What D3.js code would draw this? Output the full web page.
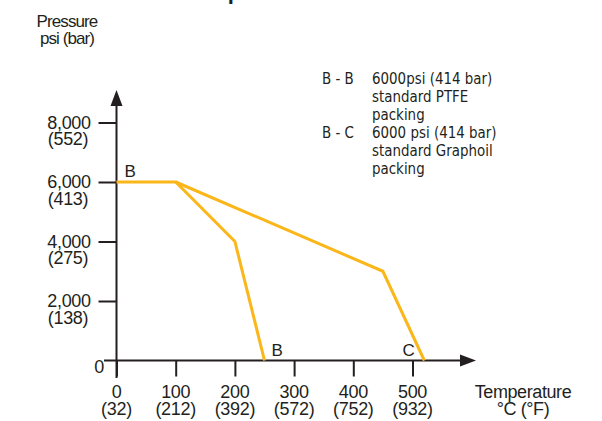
<!DOCTYPE html>
<html>
<head>
<meta charset="utf-8">
<script src="https://cdn.jsdelivr.net/npm/d3@7"></script>
<style>
  body { margin: 0; background: #fff; }
  svg text { fill: #231f20; }
</style>
</head>
<body>
<div id="chart"></div>
<script>
// data
const tempTicks = [0, 100, 200, 300, 400, 500];
const tempTicksF = ['(32)', '(212)', '(392)', '(572)', '(752)', '(932)'];
const pressureTicks = [2000, 4000, 6000, 8000];
const pressureTicksBar = ['(138)', '(275)', '(413)', '(552)'];
const seriesBB = [[0, 6000], [100, 6000], [200, 4000], [250, 0]];
const seriesBC = [[100, 6000], [450, 3000], [520, 0]];
const legendLines = [
  ['B - B', '6000psi (414 bar)'],
  ['', 'standard PTFE'],
  ['', 'packing'],
  ['B - C', '6000 psi (414 bar)'],
  ['', 'standard Graphoil'],
  ['', 'packing'],
];

const ink = '#231f20';
const orange = '#fbb619';
const W = 602, H = 421;
const sans = 'Liberation Sans, Arial, sans-serif';

const svg = d3.select('#chart').append('svg')
  .attr('width', W)
  .attr('height', H);

const x = d3.scaleLinear().domain([0, 500]).range([116.5, 412.5]);
const y = d3.scaleLinear().domain([0, 8000]).range([360.5, 122.5]);

// title, cropped off at the very top like the reference
svg.append('text')
  .attr('x', 232).attr('y', -1)
  .attr('text-anchor', 'middle')
  .style('font-family', sans)
  .style('font-weight', 'bold')
  .style('font-size', '22px')
  .text('Pressure/temperature chart');

// axes lines + arrows
svg.append('line')
  .attr('x1', x(0)).attr('x2', x(0))
  .attr('y1', 378).attr('y2', 100)
  .attr('stroke', ink).attr('stroke-width', 2);
svg.append('line')
  .attr('x1', 104).attr('x2', 465)
  .attr('y1', y(0)).attr('y2', y(0))
  .attr('stroke', ink).attr('stroke-width', 2);
svg.append('path')
  .attr('d', `M${x(0)},90 L${x(0) - 6},106 L${x(0) + 6},106 Z`)
  .attr('fill', ink);
svg.append('path')
  .attr('d', `M476,${y(0)} L460,${y(0) - 6} L460,${y(0) + 6} Z`)
  .attr('fill', ink);

// x ticks
const xAxis = svg.append('g')
  .attr('transform', `translate(0, ${y(0)})`)
  .call(d3.axisBottom(x).tickValues(tempTicks).tickSize(16).tickFormat(''));
xAxis.select('.domain').remove();
xAxis.selectAll('.tick line').attr('stroke', ink).attr('stroke-width', 2);

const xLabels = svg.append('g')
  .style('font-family', sans)
  .style('font-size', '18px')
  .style('letter-spacing', '-0.3px')
  .attr('text-anchor', 'middle');
xLabels.selectAll('text.c').data(tempTicks).join('text')
  .attr('class', 'c')
  .attr('x', d => x(d)).attr('y', 398)
  .text(d => d);
xLabels.selectAll('text.f').data(tempTicksF).join('text')
  .attr('class', 'f')
  .attr('x', (d, i) => x(tempTicks[i])).attr('y', 414.5)
  .text(d => d);

// y ticks
const yAxis = svg.append('g')
  .attr('transform', `translate(${x(0)}, 0)`)
  .call(d3.axisLeft(y).tickValues(pressureTicks).tickSize(18).tickFormat(''));
yAxis.select('.domain').remove();
yAxis.selectAll('.tick line').attr('stroke', ink).attr('stroke-width', 2);

const yLabels = svg.append('g')
  .style('font-family', sans)
  .style('font-size', '18px')
  .style('letter-spacing', '-0.3px')
  .attr('text-anchor', 'middle');
yLabels.selectAll('text.p').data(pressureTicks).join('text')
  .attr('class', 'p')
  .attr('x', 69).attr('y', d => y(d) + 6)
  .text(d3.format(','));
yLabels.selectAll('text.b').data(pressureTicksBar).join('text')
  .attr('class', 'b')
  .attr('x', 68).attr('y', (d, i) => y(pressureTicks[i]) + 22.5)
  .text(d => d);
yLabels.append('text')
  .attr('x', 99).attr('y', 372.5)
  .text('0');

// axis titles
const titles = svg.append('g')
  .style('font-family', sans)
  .attr('text-anchor', 'middle');
titles.append('text').attr('x', 67).attr('y', 26.5)
  .style('font-size', '17px').style('letter-spacing', '-0.9px').text('Pressure');
titles.append('text').attr('x', 67).attr('y', 44)
  .style('font-size', '17px').style('letter-spacing', '-0.9px').text('psi (bar)');
titles.append('text').attr('x', 523).attr('y', 398)
  .style('font-size', '18px').style('letter-spacing', '-0.4px').text('Temperature');
titles.append('text').attr('x', 523).attr('y', 414.5)
  .style('font-size', '18px').style('letter-spacing', '-0.4px').text('°C (°F)');

// curves
const line = d3.line().x(d => x(d[0])).y(d => y(d[1]));
[seriesBB, seriesBC].forEach(s => {
  svg.append('path')
    .datum(s)
    .attr('d', line)
    .attr('fill', 'none')
    .attr('stroke', orange)
    .attr('stroke-width', 3)
    .attr('stroke-linejoin', 'miter');
});

// curve letters
const letters = svg.append('g')
  .style('font-family', sans)
  .style('font-size', '17px');
letters.append('text').attr('x', x(0) + 8).attr('y', y(6000) - 5).text('B');
letters.append('text').attr('x', x(262)).attr('y', 356).text('B');
letters.append('text').attr('x', x(483)).attr('y', 356).text('C');

// legend
const legend = svg.append('g')
  .attr('transform', 'translate(322, 0) scale(0.84, 1)')
  .style('font-family', 'DejaVu Sans, sans-serif')
  .style('font-size', '16px');
legendLines.forEach((l, i) => {
  legend.append('text').attr('x', 0).attr('y', 84.5 + i * 18).text(l[0]);
  legend.append('text').attr('x', 59.5).attr('y', 84.5 + i * 18).text(l[1]);
});
</script>
</body>
</html>
